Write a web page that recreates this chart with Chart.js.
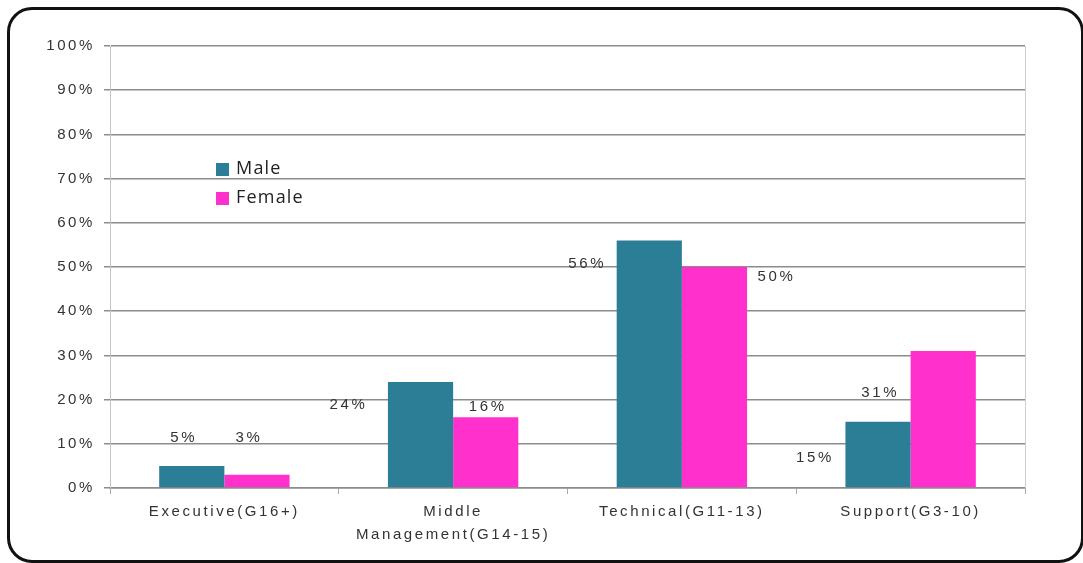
<!DOCTYPE html>
<html>
<head>
<meta charset="utf-8">
<script src="https://cdn.jsdelivr.net/npm/chart.js@4/dist/chart.umd.min.js"></script>
<style>
  html, body { margin: 0; padding: 0; background: #fff; }
  #wrap { position: relative; width: 1083px; height: 563px; overflow: hidden; }
  #frame {
    position: absolute; left: 7px; top: 7px; width: 1077px; height: 556px;
    box-sizing: border-box; border: 3px solid #111; border-radius: 25px;
    pointer-events: none;
  }
  canvas { position: absolute; left: 0; top: 0; }
</style>
</head>
<body>
<div id="wrap">
  <canvas id="c" width="1083" height="563"></canvas>
  <div id="frame"></div>
</div>
<script>
// Staff distribution by grade band
const categories = ['Executive(G16+)', ['Middle', 'Management(G14-15)'], 'Technical(G11-13)', 'Support(G3-10)'];
const seriesNames = ['Male', 'Female'];
const maleValues = [5, 24, 56, 15];
const femaleValues = [3, 16, 50, 31];
const yTickValues = [0, 10, 20, 30, 40, 50, 60, 70, 80, 90, 100];

// where each value label sits relative to the top-centre of its bar (px)
const labelPlacement = [
  [[-8, -28], [-72, 23], [-62, 23], [-63, 36]],
  [[-8, -37], [2, -10], [62, 10], [-63, 42]]
];

const TEXT_FONT = "'Liberation Sans', Arial, sans-serif";
const SPACING = '2.6px';

const spacingPlugin = {
  id: 'spacing',
  beforeLayout(chart) { chart.ctx.letterSpacing = SPACING; },
  beforeDraw(chart) { chart.ctx.letterSpacing = SPACING; }
};

const frameLines = {
  id: 'frameLines',
  beforeDatasetsDraw(chart) {
    const { ctx, chartArea: a } = chart;
    ctx.save();
    ctx.strokeStyle = '#cfcfcf';
    ctx.lineWidth = 1;
    ctx.beginPath();
    ctx.moveTo(a.right + 0.5, a.top);
    ctx.lineTo(a.right + 0.5, a.bottom);
    ctx.stroke();
    ctx.restore();
  }
};

const valueLabels = {
  id: 'valueLabels',
  afterDatasetsDraw(chart) {
    const { ctx } = chart;
    ctx.save();
    ctx.letterSpacing = SPACING;
    ctx.font = '15px ' + TEXT_FONT;
    ctx.fillStyle = '#333';
    ctx.textAlign = 'center';
    ctx.textBaseline = 'middle';
    chart.data.datasets.forEach((ds, di) => {
      chart.getDatasetMeta(di).data.forEach((bar, i) => {
        const off = labelPlacement[di][i];
        ctx.fillText(ds.data[i] + '%', bar.x + off[0], bar.y + off[1]);
      });
    });
    ctx.restore();
  }
};

const innerLegend = {
  id: 'innerLegend',
  afterDraw(chart) {
    const { ctx, chartArea: a } = chart;
    ctx.save();
    ctx.letterSpacing = '1.2px';
    ctx.font = "18px 'Open Sans', sans-serif";
    ctx.textBaseline = 'middle';
    ctx.textAlign = 'left';
    chart.data.datasets.forEach((ds, i) => {
      const x = a.left + 106;
      const y = a.top + 123 + i * 29;
      ctx.fillStyle = ds.backgroundColor;
      ctx.fillRect(x, y - 6, 13, 13);
      ctx.fillStyle = '#222';
      ctx.fillText(ds.label, x + 20, y);
    });
    ctx.restore();
  }
};

new Chart(document.getElementById('c'), {
  type: 'bar',
  data: {
    labels: categories,
    datasets: [
      { label: seriesNames[0], data: maleValues, backgroundColor: '#2B7E95' },
      { label: seriesNames[1], data: femaleValues, backgroundColor: '#FF30CC' }
    ]
  },
  options: {
    responsive: false,
    animation: false,
    events: [],
    layout: { padding: { top: 46, right: 58, left: 0, bottom: 0 } },
    datasets: { bar: { categoryPercentage: 0.57, barPercentage: 1.0 } },
    plugins: { legend: { display: false }, tooltip: { enabled: false } },
    scales: {
      x: {
        grid: { display: true, drawOnChartArea: false, drawTicks: true, tickLength: 6, color: '#aaa', lineWidth: 1 },
        border: { display: true, color: '#8c8c8c', width: 1.5 },
        ticks: { font: { family: TEXT_FONT, size: 15, lineHeight: 1.5 }, color: '#333', padding: 7, maxRotation: 0, autoSkip: false },
        afterFit(scale) { scale.height = 75; }
      },
      y: {
        min: 0, max: 100,
        afterBuildTicks(scale) { scale.ticks = yTickValues.map(v => ({ value: v })); },
        grid: { color: '#8c8c8c', lineWidth: 1.5, tickLength: 6 },
        border: { display: true, color: '#c4c4c4', width: 1 },
        ticks: { font: { family: TEXT_FONT, size: 15 }, color: '#333', padding: 9, callback: v => v + '%' },
        afterFit(scale) { scale.width = 110; }
      }
    }
  },
  plugins: [spacingPlugin, frameLines, valueLabels, innerLegend]
});
</script>
</body>
</html>
